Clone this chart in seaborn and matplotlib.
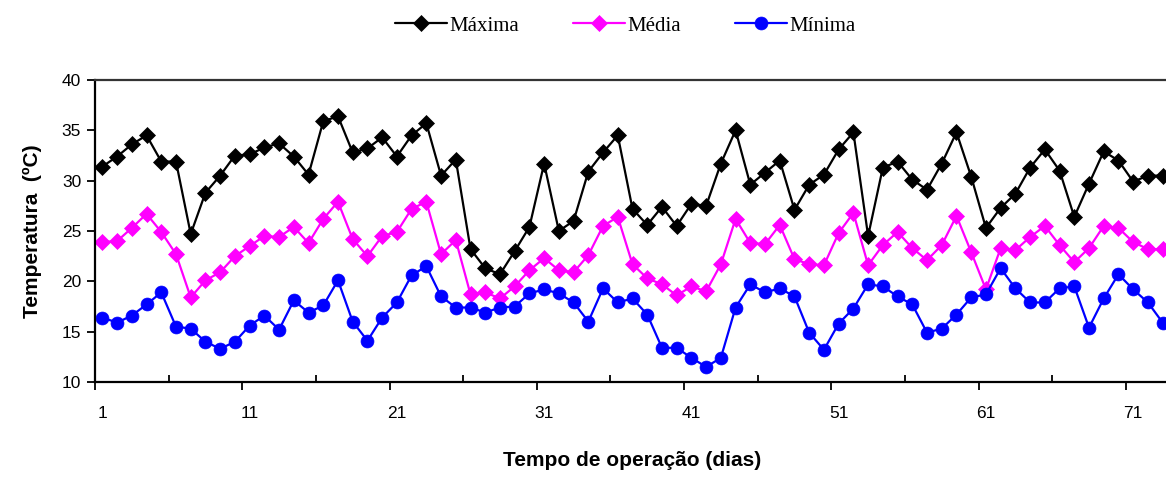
import numpy as np
import pandas as pd
import matplotlib
matplotlib.use("Agg")
import matplotlib.pyplot as plt
import seaborn as sns

dias = list(range(1, 74))

maxima = [31.4, 32.4, 33.6, 34.5, 31.9, 31.9, 24.7, 28.8, 30.5, 32.5,
          32.6, 33.3, 33.7, 32.4, 30.6, 35.9, 36.4, 32.8, 33.2, 34.3,
          32.4, 34.5, 35.7, 30.5, 32.1, 23.2, 21.3, 20.7, 23.0, 25.4,
          31.7, 25.0, 26.0, 30.9, 32.8, 34.5, 27.2, 25.6, 27.4, 25.5,
          27.7, 27.5, 31.7, 35.0, 29.6, 30.8, 32.0, 27.1, 29.6, 30.6,
          33.1, 34.8, 24.5, 31.3, 31.9, 30.1, 29.1, 31.7, 34.8, 30.4,
          25.3, 27.3, 28.7, 31.3, 33.1, 31.0, 26.4, 29.7, 32.9, 32.0,
          29.9, 30.5, 30.5]

media = [23.9, 24.0, 25.3, 26.7, 24.9, 22.7, 18.4, 20.1, 20.9, 22.5,
         23.5, 24.5, 24.4, 25.4, 23.8, 26.2, 27.9, 24.2, 22.5, 24.5,
         24.9, 27.2, 27.9, 22.7, 24.1, 18.7, 18.9, 18.3, 19.5, 21.1,
         22.3, 21.1, 20.9, 22.6, 25.5, 26.4, 21.7, 20.3, 19.7, 18.6,
         19.5, 19.0, 21.7, 26.2, 23.8, 23.7, 25.6, 22.2, 21.7, 21.6,
         24.8, 26.8, 21.6, 23.6, 24.9, 23.3, 22.1, 23.6, 26.5, 22.9,
         19.2, 23.3, 23.1, 24.4, 25.5, 23.6, 21.9, 23.3, 25.5, 25.3,
         23.9, 23.2, 23.2]

minima = [16.4, 15.9, 16.6, 17.7, 18.9, 15.5, 15.3, 14.0, 13.3, 14.0,
          15.6, 16.6, 15.2, 18.1, 16.9, 17.6, 20.1, 16.0, 14.1, 16.4,
          17.9, 20.6, 21.5, 18.5, 17.4, 17.4, 16.9, 17.4, 17.5, 18.8,
          19.2, 18.8, 17.9, 16.0, 19.3, 17.9, 18.3, 16.7, 13.4, 13.4,
          12.4, 11.5, 12.4, 17.4, 19.7, 18.9, 19.3, 18.5, 14.9, 13.2,
          15.8, 17.3, 19.7, 19.5, 18.5, 17.7, 14.9, 15.3, 16.7, 18.4,
          18.7, 21.3, 19.3, 17.9, 17.9, 19.3, 19.5, 15.4, 18.3, 20.7,
          19.2, 17.9, 15.9]

series_names = ["Máxima", "Média", "Mínima"]
x_tick_labels = ["1", "11", "21", "31", "41", "51", "61", "71"]
y_ticks = [10, 15, 20, 25, 30, 35, 40]

df = pd.DataFrame({
    "dia": dias * 3,
    "temp": maxima + media + minima,
    "serie": [series_names[0]] * len(dias) + [series_names[1]] * len(dias) + [series_names[2]] * len(dias),
})

sns.set_theme(style="white")
plt.rcParams["font.family"] = ["Liberation Sans", "DejaVu Sans"]
for key in ["text.color", "axes.labelcolor", "xtick.color", "ytick.color"]:
    plt.rcParams[key] = "black"

fig = plt.figure(figsize=(11.66, 4.97), dpi=100)
ax = fig.add_axes([95 / 1166, 1 - 382 / 497, (1170 - 95) / 1166, (382 - 80) / 497])

palette = {"Máxima": "#000000", "Média": "#FF00FF", "Mínima": "#0000FF"}
markers = {"Máxima": "D", "Média": "D", "Mínima": "o"}
sns.lineplot(data=df, x="dia", y="temp", hue="serie", style="serie",
             hue_order=series_names, style_order=series_names,
             palette=palette, markers=markers, dashes=False,
             linewidth=1.6, markersize=8.5, markeredgewidth=0.5,
             legend=False, ax=ax)
for ln in ax.lines:
    ln.set_markeredgecolor(ln.get_color())
    if ln.get_marker() == "o":
        ln.set_markersize(9.3)

ax.set_xlim(0.5, 73.5)
ax.set_ylim(10, 40)
ax.set_yticks(y_ticks)
ax.set_yticklabels([str(v) for v in y_ticks], fontsize=12.5)
ax.set_xticks([int(s) for s in x_tick_labels])
ax.set_xticklabels(x_tick_labels, fontsize=12.5)
ax.tick_params(axis="x", which="major", length=0, pad=17)
ax.set_xticks(np.arange(0.5, 74, 10), minor=True)
ax.tick_params(axis="x", which="minor", direction="out", length=6, width=1.3, color="black", bottom=True)
ax.tick_params(axis="y", which="major", direction="out", length=6, width=1.3, color="black", left=True, pad=4)

sec = ax.secondary_xaxis("bottom")
sec.set_xticks(np.arange(5.5, 74, 10))
sec.tick_params(axis="x", direction="in", length=5, width=1.3, color="black", labelbottom=False)
sec.spines["bottom"].set_visible(False)

for s in ["left", "bottom"]:
    ax.spines[s].set_color("black")
    ax.spines[s].set_linewidth(1.6)
ax.spines["top"].set_color("#333333")
ax.spines["top"].set_linewidth(1.6)
ax.spines["right"].set_color("#333333")

ax.set_xlabel("Tempo de operação (dias)", fontsize=15, fontweight="bold", labelpad=22, color="black")
ax.set_ylabel("Temperatura  (ºC)", fontsize=15, fontweight="bold", labelpad=14, color="black")
ax.grid(False)

handles = ax.lines[:3]
leg = fig.legend(handles, series_names, loc="center", bbox_to_anchor=(0.536, 0.948),
                 ncol=3, frameon=False, handlelength=2.5, handletextpad=0.1,
                 columnspacing=2.6, prop={"family": "Liberation Serif", "size": 15})
for t in leg.get_texts():
    t.set_color("black")

fig.savefig("out.png", dpi=100)
